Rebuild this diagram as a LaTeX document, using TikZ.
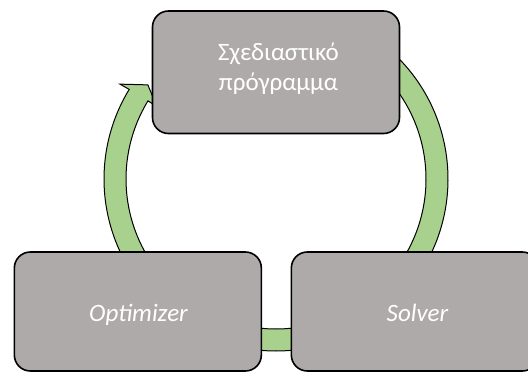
\documentclass[tikz,border=0pt]{standalone}
\usepackage{fontspec}
\setmainfont{Carlito}
\usetikzlibrary{calc}
\definecolor{boxgray}{HTML}{AEAAAA}
\definecolor{ringgreen}{HTML}{A9D18E}
\tikzset{
  boxnode/.style={draw=black, line width=1.6pt, fill=boxgray, rounded corners=16pt,
    rectangle, inner sep=0pt, minimum width=#1},
  boxnode/.default=247pt,
  ringband/.style={draw=black, line width=1pt, fill=ringgreen, line join=miter},
  boxtext/.style={text=white, font=\fontsize{25}{30.5}\selectfont, inner sep=0pt, align=center}
}
\begin{document}
\begin{tikzpicture}[x=1pt, y=-1pt]
\useasboundingbox (0,0) rectangle (528,372);
\begin{scope}
\clip (0,0) rectangle (528,372);
\coordinate (C) at (276,179);
% left arc with arrowhead (Optimizer -> design program)
\draw[ringband] ($(C)+(-220:172)$) arc[start angle=-220, end angle=-148.6, radius=172]
  -- ($(C)+(-148.7:182.6)$) -- ($(C)+(-143.7:159)$) -- ($(C)+(-148.7:139.4)$)
  -- ($(C)+(-148.6:150)$) arc[start angle=-148.6, end angle=-220, radius=150] -- cycle;
% right arc (design program -> Solver)
\draw[ringband] ($(C)+(-50:172)$) arc[start angle=-50, end angle=40, radius=172]
  -- ($(C)+(40:150)$) arc[start angle=40, end angle=-50, radius=150] -- cycle;
% bottom arc (Solver -> Optimizer)
\draw[ringband] ($(C)+(70:172)$) arc[start angle=70, end angle=110, radius=172]
  -- ($(C)+(110:150)$) arc[start angle=110, end angle=70, radius=150] -- cycle;
% boxes
\node[boxnode, minimum height=122.5pt] (plan) at (276,72.25) {};
\node[boxnode, minimum height=119pt] (opt) at (137.85,311.5) {};
\node[boxnode, minimum height=119pt] (solver) at (414.85,311.5) {};
\end{scope}
% texts
\node[boxtext] (plantext) at (278.5,68.5) {Σχεδιαστικό\\πρόγραμμα};
\node[boxtext, anchor=base] (opttext) at (138.5,321.7) {\itshape Optimizer};
\node[boxtext, anchor=base] (solvertext) at (417.5,321.7) {\itshape Solver};
\end{tikzpicture}
\end{document}
